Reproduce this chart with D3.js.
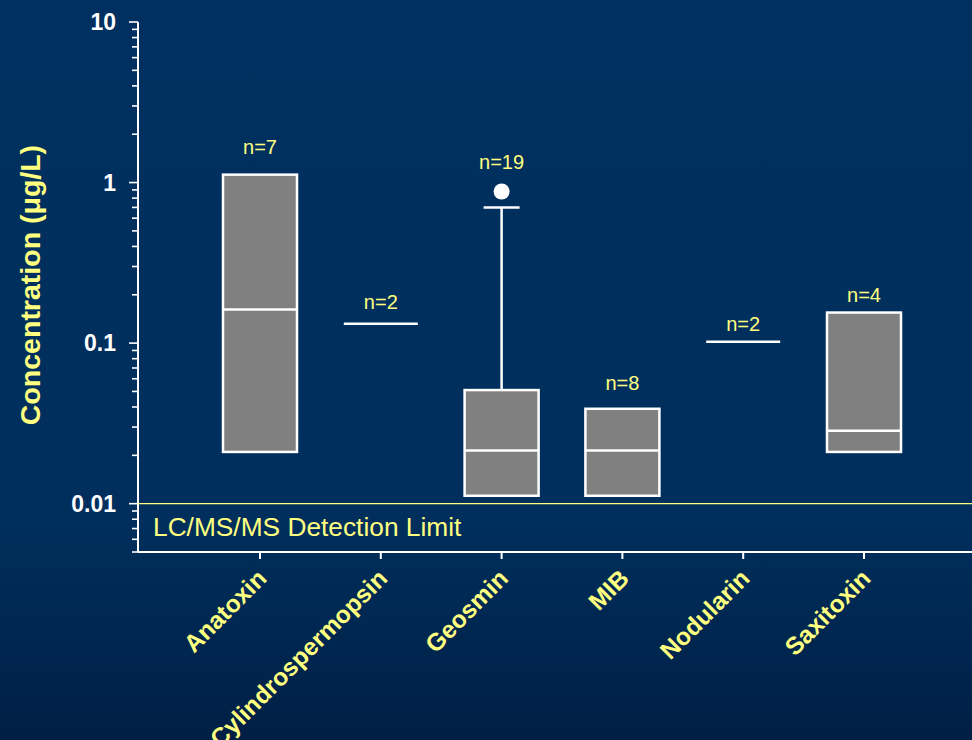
<!DOCTYPE html>
<html><head><meta charset="utf-8">
<script src="https://cdn.jsdelivr.net/npm/d3@7"></script>
<style>html,body{margin:0;padding:0;overflow:hidden;background:#00305f}</style>
</head><body>
<script>
const categories = ["Anatoxin","Cylindrospermopsin","Geosmin","MIB","Nodularin","Saxitoxin"];
const q1Values     = [0.021, 0.132, 0.0112, 0.0112, 0.102, 0.021];
const medianValues = [0.162, 0.132, 0.0214, 0.0214, 0.102, 0.0285];
const q3Values     = [1.12,  0.132, 0.051,  0.039,  0.102, 0.155];
const whiskerHigh  = [null,  null,  0.70,   null,   null,  null];
const outliers     = [[],    [],    [0.88], [],     [],    []];
const nLabels      = ["n=7","n=2","n=19","n=8","n=2","n=4"];
const nLabelAt     = [1.675, 0.1815, 1.35, 0.0567, 0.132, 0.2005];
const yTickLabels  = ["10","1","0.1","0.01"];
const yTickValues  = [10, 1, 0.1, 0.01];
const detectionLimit = 0.01;
const detectionText = "LC/MS/MS Detection Limit";
const yTitle = "Concentration (\u03bcg/L)";

const W = 972, H = 740;
const svg = d3.select("body").append("svg").attr("width", W).attr("height", H);
const defs = svg.append("defs");
const g0 = defs.append("linearGradient").attr("id","bg").attr("x1",0).attr("y1",0).attr("x2",0).attr("y2",1);
g0.append("stop").attr("offset","0").attr("stop-color","#00305f");
g0.append("stop").attr("offset","0.70").attr("stop-color","#002f5d");
g0.append("stop").attr("offset","1").attr("stop-color","#001f45");
svg.append("rect").attr("width",W).attr("height",H).attr("fill","url(#bg)");

const xAxisX = 138;
const y = d3.scaleLog().domain([0.005, 10]).range([552, 22]);
const x = d3.scalePoint().domain(categories).range([260, 864]);
const boxW = 74;
const font = "'Liberation Sans', Arial, sans-serif";
const yellow = "#ffff80";

// Y axis
const minorTicks = [];
for (let e = -3; e <= 0; e++) for (let m = 1; m <= 9; m++) {
  const v = m * Math.pow(10, e);
  if (v >= 0.005 - 1e-12 && v <= 10 + 1e-9) minorTicks.push(+v.toPrecision(6));
}
minorTicks.push(10);
const ya = svg.append("g").attr("transform", `translate(${xAxisX},0)`);
ya.append("line").attr("x1",0).attr("x2",0).attr("y1",y(10)).attr("y2",y(0.005)).attr("stroke","#fff").attr("stroke-width",2);
ya.selectAll("line.t").data(minorTicks).join("line").attr("class","t")
  .attr("x1", d => yTickValues.some(t => Math.abs(t - d) < 1e-9) ? -9 : -6).attr("x2",0)
  .attr("y1", d => y(d)).attr("y2", d => y(d)).attr("stroke","#fff").attr("stroke-width",1.6);
ya.selectAll("text").data(yTickValues).join("text")
  .attr("x", -22).attr("y", d => y(d)).attr("dy","0.36em")
  .attr("text-anchor","end").attr("fill","#fff").attr("font-family",font)
  .attr("font-weight","bold").attr("font-size",23)
  .text((d,i) => yTickLabels[i]);

svg.append("text").attr("transform", `translate(40,285) rotate(-90)`)
  .attr("text-anchor","middle").attr("fill", yellow).attr("font-family",font)
  .attr("font-weight","bold").attr("font-size",28.5).text(yTitle);

// X axis
svg.append("line").attr("x1",xAxisX).attr("x2",W).attr("y1",y(0.005)).attr("y2",y(0.005)).attr("stroke","#fff").attr("stroke-width",2);
svg.selectAll("line.xt").data(categories).join("line").attr("class","xt")
  .attr("x1", d => x(d)).attr("x2", d => x(d)).attr("y1", y(0.005)).attr("y2", y(0.005)+7)
  .attr("stroke","#fff").attr("stroke-width",2);
svg.selectAll("text.xl").data(categories).join("text").attr("class","xl")
  .attr("transform", d => `translate(${x(d)+8},${y(0.005)+28}) rotate(-45)`)
  .attr("text-anchor","end").attr("fill", yellow).attr("font-family",font)
  .attr("font-weight","bold").attr("font-size",24.5).text(d => d);

// detection limit
svg.append("line").attr("x1",xAxisX).attr("x2",W).attr("y1",y(detectionLimit)).attr("y2",y(detectionLimit))
  .attr("stroke", yellow).attr("stroke-width",1.3);
svg.append("text").attr("x",153).attr("y",y(detectionLimit)+32).attr("fill",yellow)
  .attr("font-family",font).attr("font-size",26.3).text(detectionText);

// boxes
const data = categories.map((c,i) => ({c, q1:q1Values[i], med:medianValues[i], q3:q3Values[i], wh:whiskerHigh[i], out:outliers[i], n:nLabels[i], nAt:nLabelAt[i]}));
const gb = svg.append("g");
data.forEach(d => {
  const cx = x(d.c);
  if (d.wh != null) {
    gb.append("line").attr("x1",cx).attr("x2",cx).attr("y1",y(d.wh)).attr("y2",y(d.q3)).attr("stroke","#fff").attr("stroke-width",2.5);
    gb.append("line").attr("x1",cx-18).attr("x2",cx+18).attr("y1",y(d.wh)).attr("y2",y(d.wh)).attr("stroke","#fff").attr("stroke-width",2.5);
  }
  if (d.q1 === d.q3) {
    gb.append("line").attr("x1",cx-boxW/2).attr("x2",cx+boxW/2).attr("y1",y(d.med)).attr("y2",y(d.med)).attr("stroke","#fff").attr("stroke-width",2.5);
  } else {
    gb.append("rect").attr("x",cx-boxW/2).attr("y",y(d.q3)).attr("width",boxW).attr("height",y(d.q1)-y(d.q3))
      .attr("fill","#808080").attr("stroke","#fff").attr("stroke-width",2.5);
    gb.append("line").attr("x1",cx-boxW/2).attr("x2",cx+boxW/2).attr("y1",y(d.med)).attr("y2",y(d.med)).attr("stroke","#fff").attr("stroke-width",2.5);
  }
  d.out.forEach(o => gb.append("circle").attr("cx",cx).attr("cy",y(o)).attr("r",8).attr("fill","#fff"));
  gb.append("text").attr("x",cx).attr("y",y(d.nAt)).attr("dy","0.35em").attr("text-anchor","middle")
    .attr("fill",yellow).attr("font-family",font).attr("font-size",20).text(d.n);
});
</script>
</body></html>
